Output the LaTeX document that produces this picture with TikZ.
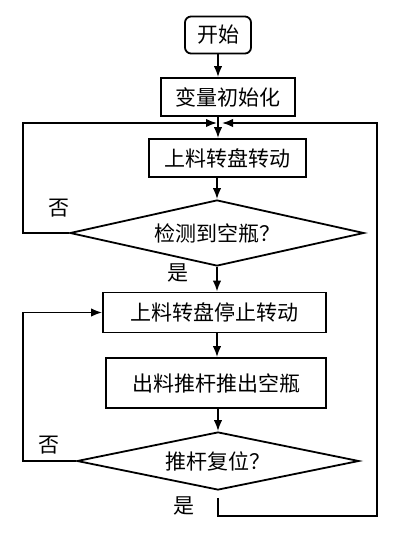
\documentclass[tikz,border=0pt]{standalone}
\usepackage{fontspec}
\newfontfamily\cjk{Noto Sans CJK SC}
\usetikzlibrary{shapes.geometric,arrows.meta}
\begin{document}
\begin{tikzpicture}[x=1pt,y=-1pt,
  every node/.style={font=\cjk\fontsize{21}{25}\selectfont},
  ln/.style={line width=1.8pt},
  arr/.style={line width=1.8pt,-{Latex[length=11pt,width=8.5pt]}},
  procbox/.style={draw,line width=1.8pt,rectangle,inner sep=0pt},
  decbox/.style={draw,line width=1.8pt,diamond,aspect=4.5,inner sep=0pt},
  lbl/.style={inner sep=0pt}]
\useasboundingbox (0,0) rectangle (400,533);
\fill[white] (0,0) rectangle (400,533);
\node[procbox,rounded corners=6pt,minimum width=66pt,minimum height=37pt] (start) at (218,35) {开始};
\node[procbox,minimum width=134pt,minimum height=38pt] (init) at (228,97) {变量初始化};
\node[procbox,minimum width=157pt,minimum height=38pt] (rot) at (227.5,158) {上料转盘转动};
\node[decbox,minimum width=294pt,minimum height=66pt] (d1) at (217,233) {检测到空瓶？};
\node[procbox,minimum width=223pt,minimum height=40pt] (stop) at (214.5,312.5) {上料转盘停止转动};
\node[procbox,minimum width=220pt,minimum height=50pt] (push) at (216,383) {出料推杆推出空瓶};
\node[decbox,minimum width=282pt,minimum height=58pt] (d2) at (218,461) {推杆复位？};
\node[lbl] (no1) at (59,208) {否};
\node[lbl] (yes1) at (178,273) {是};
\node[lbl] (no2) at (49,445) {否};
\node[lbl] (yes2) at (184,506) {是};
\coordinate (jn) at (218,123);
\coordinate (jnl) at (217,123);
\coordinate (jnr) at (222,123);
\coordinate (lx) at (23,0);
\coordinate (rb) at (377,516);
% main flow
\draw[arr] (start.south) -- (start.south |- init.north);
\draw[arr] (start.south |- init.south) -- (start.south |- rot.north);
\draw[arr] (d1.north |- rot.south) -- (d1.north);
\draw[arr] (d1.south) -- (d1.south |- stop.north);
\draw[arr] (d1.south |- stop.south) -- (d1.south |- push.north);
\draw[arr] (d2.north |- push.south) -- (d2.north);
% loops
\draw[arr] (d1.west) -| (lx |- jn) -- (jnl);
\draw[arr] (d2.west) -| (lx |- stop.west) -- (stop.west);
\draw[arr,shorten <=7pt] (d2.south) |- (rb) |- (jnr);
\end{tikzpicture}
\end{document}
